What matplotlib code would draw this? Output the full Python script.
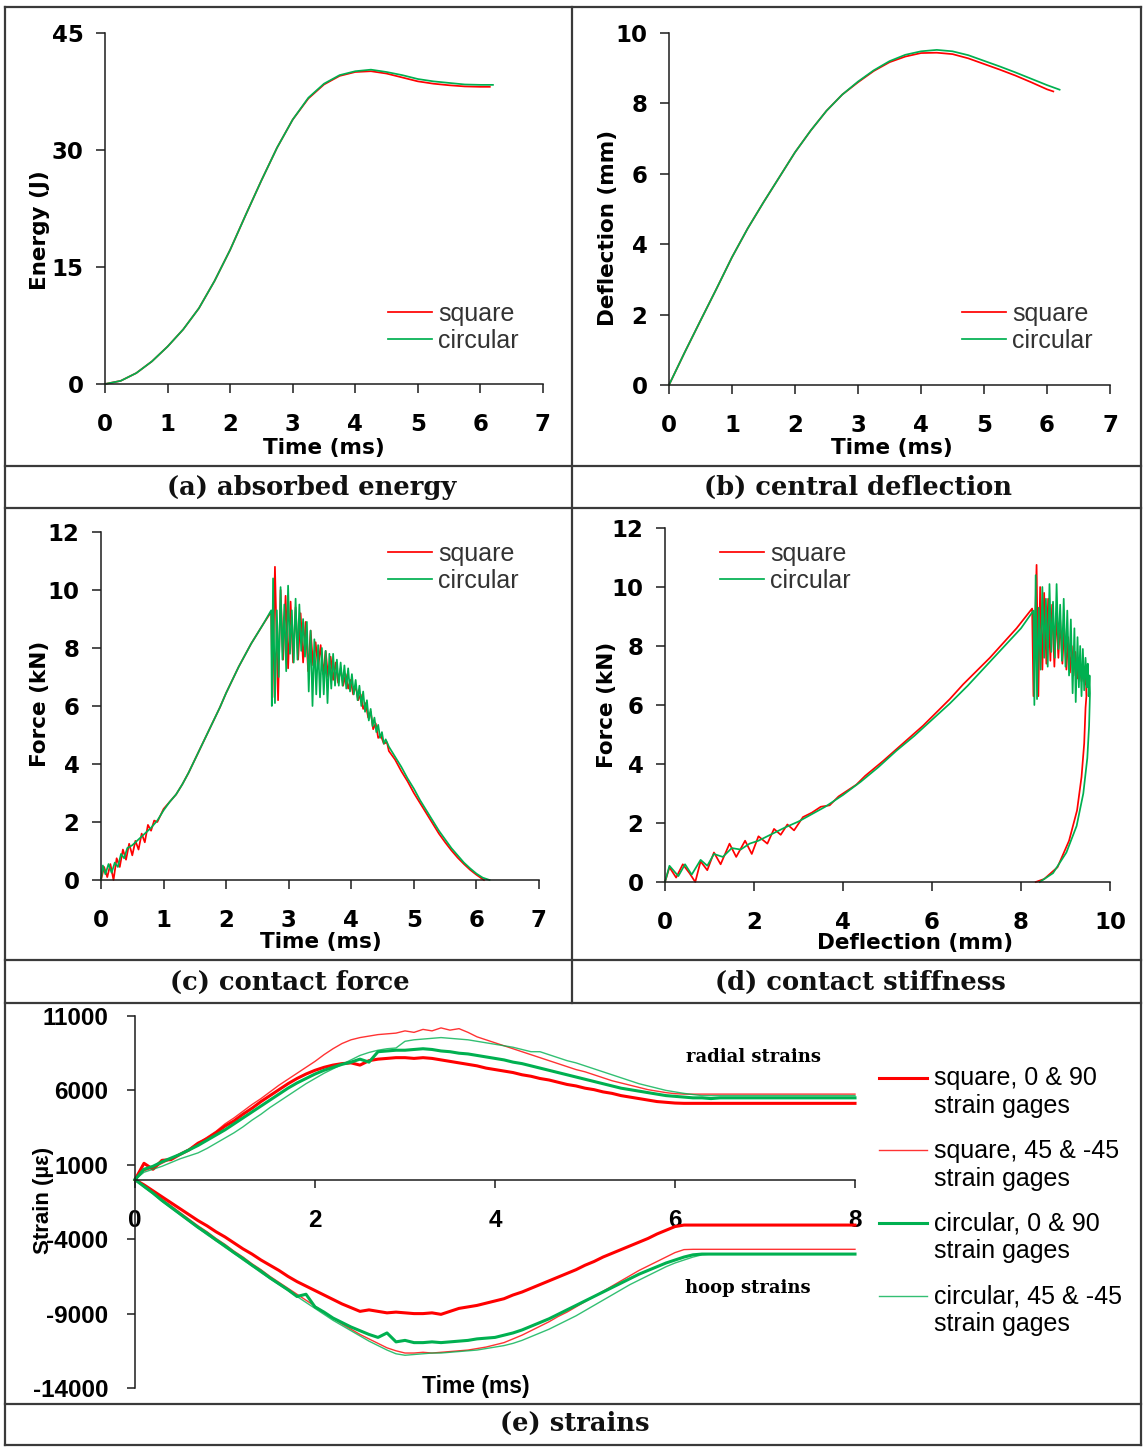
import numpy as np
import matplotlib
matplotlib.use("Agg")
import matplotlib.pyplot as plt
from matplotlib.lines import Line2D
from matplotlib.legend_handler import HandlerLine2D

# ---------------------------------------------------------------- data
# (a) absorbed energy (J) vs time (ms)
energy_t_sq = [0, 0.25, 0.5, 0.75, 1.0, 1.25, 1.5, 1.75, 2.0, 2.25, 2.5, 2.75, 3.0,
               3.25, 3.5, 3.75, 4.0, 4.25, 4.5, 4.75, 5.0, 5.25, 5.5, 5.75, 6.0, 6.15]
energy_sq = [0, 0.4, 1.4, 2.9, 4.8, 7.0, 9.7, 13.2, 17.2, 21.7, 26.1, 30.3, 33.9,
             36.6, 38.4, 39.5, 40.0, 40.1, 39.8, 39.3, 38.8, 38.5, 38.3, 38.15, 38.1, 38.1]
energy_t_ci = [0, 0.25, 0.5, 0.75, 1.0, 1.25, 1.5, 1.75, 2.0, 2.25, 2.5, 2.75, 3.0,
               3.25, 3.5, 3.75, 4.0, 4.25, 4.5, 4.75, 5.0, 5.25, 5.5, 5.75, 6.0, 6.2]
energy_ci = [0, 0.4, 1.4, 2.9, 4.8, 7.0, 9.7, 13.2, 17.2, 21.7, 26.1, 30.3, 33.9,
             36.7, 38.5, 39.6, 40.1, 40.3, 40.0, 39.6, 39.1, 38.8, 38.6, 38.4, 38.35, 38.35]

# (b) central deflection (mm) vs time (ms)
defl_t_sq = [0, 0.25, 0.5, 0.75, 1.0, 1.25, 1.5, 1.75, 2.0, 2.25, 2.5, 2.75, 3.0,
             3.25, 3.5, 3.75, 4.0, 4.25, 4.5, 4.75, 5.0, 5.25, 5.5, 5.75, 6.0, 6.1]
defl_sq = [0, 0.93, 1.83, 2.72, 3.63, 4.45, 5.19, 5.9, 6.61, 7.23, 7.79, 8.25, 8.6,
           8.92, 9.17, 9.33, 9.43, 9.44, 9.4, 9.28, 9.12, 8.96, 8.79, 8.6, 8.4, 8.34]
defl_t_ci = [0, 0.25, 0.5, 0.75, 1.0, 1.25, 1.5, 1.75, 2.0, 2.25, 2.5, 2.75, 3.0,
             3.25, 3.5, 3.75, 4.0, 4.25, 4.5, 4.75, 5.0, 5.25, 5.5, 5.75, 6.0, 6.2]
defl_ci = [0, 0.93, 1.83, 2.72, 3.63, 4.45, 5.19, 5.9, 6.61, 7.23, 7.79, 8.25, 8.62,
           8.94, 9.2, 9.38, 9.48, 9.52, 9.48, 9.37, 9.21, 9.05, 8.88, 8.7, 8.52, 8.39]

# (c) contact force (kN) vs time (ms)
force_t_sq = [0, 0.05, 0.1, 0.15, 0.2, 0.25, 0.3, 0.35, 0.4, 0.45, 0.5, 0.55, 0.6, 0.65,
              0.7, 0.75, 0.8, 0.85, 0.9, 1.0, 1.1, 1.2, 1.3, 1.4, 1.5, 1.6, 1.7, 1.8,
              1.9, 2.0, 2.1, 2.2, 2.3, 2.4, 2.5, 2.6, 2.72,
              2.74, 2.78, 2.83, 2.87, 2.91, 2.95, 2.99, 3.03, 3.07, 3.11, 3.15, 3.19,
              3.23, 3.27, 3.31, 3.35, 3.39, 3.43, 3.47, 3.51, 3.55, 3.59, 3.63, 3.67,
              3.71, 3.75, 3.79, 3.83, 3.87, 3.91, 3.95, 3.99, 4.03, 4.07, 4.11, 4.15,
              4.19, 4.23, 4.27, 4.31, 4.35, 4.39, 4.43, 4.47, 4.52, 4.57,
              4.6, 4.7, 4.8, 4.9, 5.0, 5.1, 5.2, 5.3, 5.4, 5.5, 5.6, 5.7, 5.8, 5.9,
              6.0, 6.12]
force_sq = [0, 0.45, 0.1, 0.55, 0.0, 0.75, 0.45, 1.05, 0.7, 1.25, 0.85, 1.35, 1.05, 1.6,
            1.3, 1.9, 1.7, 2.05, 2.0, 2.45, 2.7, 2.95, 3.3, 3.7, 4.15, 4.6, 5.05, 5.5,
            5.95, 6.45, 6.9, 7.35, 7.75, 8.15, 8.5, 8.85, 9.25,
            6.3, 10.8, 6.2, 10.0, 7.6, 9.8, 7.3, 9.6, 7.5, 9.4, 7.6, 9.2,
            7.5, 8.9, 7.2, 8.6, 7.4, 8.2, 7.3, 8.1, 7.1, 7.9, 7.0, 7.7,
            6.9, 7.5, 6.8, 7.3, 6.7, 7.1, 6.6, 6.9, 6.4, 6.7, 6.2, 6.4,
            5.9, 6.1, 5.6, 5.8, 5.2, 5.4, 4.9, 5.0, 4.7, 4.75,
            4.45, 4.15, 3.75, 3.4, 3.0, 2.65, 2.3, 1.95, 1.6, 1.3, 1.02, 0.77, 0.55, 0.35,
            0.18, 0.0]
force_t_ci = [0, 0.03, 0.07, 0.12, 0.17, 0.22, 0.27, 0.32, 0.37, 0.42, 0.5, 0.6, 0.7,
              0.8, 0.9, 1.0, 1.1, 1.2, 1.3, 1.4, 1.5, 1.6, 1.7, 1.8, 1.9, 2.0, 2.1,
              2.2, 2.3, 2.4, 2.5, 2.6, 2.72,
              2.73, 2.75, 2.78, 2.81, 2.84, 2.87, 2.90, 2.93, 2.96, 2.99, 3.02, 3.05,
              3.08, 3.11, 3.14, 3.17, 3.20, 3.23, 3.26, 3.29, 3.32, 3.35, 3.38, 3.41,
              3.44, 3.47, 3.50, 3.53, 3.56, 3.59, 3.62, 3.65, 3.68, 3.71, 3.74, 3.77,
              3.80, 3.83, 3.86, 3.89, 3.92, 3.95, 3.98, 4.01, 4.04, 4.07, 4.10, 4.13,
              4.16, 4.19, 4.22, 4.25, 4.28, 4.31, 4.34, 4.37, 4.40, 4.43, 4.46, 4.49,
              4.52, 4.55,
              4.6, 4.7, 4.8, 4.9, 5.0, 5.1, 5.2, 5.3, 5.4, 5.5, 5.6, 5.7, 5.8, 5.9,
              6.0, 6.1, 6.21]
force_ci = [0, 0.5, 0.2, 0.55, 0.25, 0.6, 0.45, 0.9, 0.75, 1.1, 1.2, 1.4, 1.6,
            1.8, 2.05, 2.4, 2.7, 2.95, 3.3, 3.7, 4.15, 4.6, 5.05, 5.5, 5.95, 6.45, 6.9,
            7.35, 7.75, 8.15, 8.5, 8.85, 9.3,
            6.0, 10.4, 6.1, 9.3, 7.0, 10.1, 7.6, 9.5, 7.2, 10.15, 7.8, 9.3,
            7.5, 9.7, 7.6, 9.5, 7.9, 9.0, 7.7, 8.9, 6.5, 8.6, 6.0, 8.3,
            6.4, 8.1, 6.3, 8.0, 6.4, 7.9, 6.1, 7.8, 6.6, 7.8, 6.7, 7.6,
            6.7, 7.5, 6.7, 7.4, 6.6, 7.3, 6.5, 7.1, 6.4, 6.9, 6.2, 6.7,
            6.0, 6.5, 5.8, 6.2, 5.5, 5.9, 5.3, 5.6, 5.1, 5.35, 4.9, 5.1,
            4.7, 4.85,
            4.6, 4.25, 3.9, 3.5, 3.15, 2.75, 2.4, 2.05, 1.7, 1.4, 1.1, 0.85, 0.6, 0.4,
            0.22, 0.08, 0.0]

# (d) contact force (kN) vs central deflection (mm)
stiff_d_sq = [0, 0.1, 0.25, 0.4, 0.55, 0.68, 0.8, 0.95, 1.1, 1.25, 1.45, 1.6, 1.8, 1.95,
              2.1, 2.3, 2.45, 2.6, 2.75, 2.9, 3.1, 3.3, 3.5, 3.7, 3.9, 4.1, 4.3, 4.5,
              4.7, 4.9, 5.2, 5.5, 5.8, 6.1, 6.4, 6.7, 7.0, 7.3, 7.6, 7.9, 8.25,
              8.28, 8.35, 8.39, 8.43, 8.48, 8.52, 8.57, 8.61, 8.66, 8.70, 8.75, 8.79,
              8.84, 8.88, 8.93, 8.97, 9.02, 9.06, 9.10, 9.14, 9.18, 9.22, 9.27, 9.31,
              9.36, 9.40, 9.44, 9.46, 9.47,
              9.45, 9.42, 9.36, 9.26, 9.08, 8.82, 8.52, 8.33]
stiff_sq = [0, 0.5, 0.15, 0.6, 0.3, 0.0, 0.7, 0.4, 1.0, 0.6, 1.3, 0.85, 1.4, 0.95,
            1.55, 1.3, 1.8, 1.6, 1.95, 1.75, 2.2, 2.35, 2.55, 2.6, 2.9, 3.1, 3.3, 3.6,
            3.85, 4.1, 4.5, 4.9, 5.3, 5.75, 6.2, 6.7, 7.15, 7.6, 8.1, 8.6, 9.27,
            6.3, 10.75, 6.3, 10.0, 7.2, 9.8, 7.4, 9.6, 7.5, 9.4, 7.3, 9.1,
            7.6, 8.9, 7.4, 8.6, 7.2, 8.3, 7.1, 8.0, 7.0, 7.8, 6.9, 7.5,
            6.8, 7.2, 6.7, 6.9, 6.3,
            5.9, 4.7, 3.56, 2.43, 1.4, 0.5, 0.1, 0.0]
stiff_d_ci = [0, 0.1, 0.3, 0.45, 0.6, 0.8, 0.95, 1.1, 1.3, 1.5, 1.7, 1.9, 2.1, 2.3,
              2.5, 2.7, 3.0, 3.3, 3.6, 4.0, 4.4, 4.8, 5.2, 5.6, 6.0, 6.4, 6.8, 7.2,
              7.6, 8.0, 8.28,
              8.30, 8.33, 8.36, 8.40, 8.44, 8.48, 8.52, 8.56, 8.60, 8.64, 8.68, 8.72,
              8.76, 8.80, 8.84, 8.88, 8.92, 8.96, 9.00, 9.04, 9.08, 9.12, 9.16, 9.20,
              9.23, 9.27, 9.30, 9.33, 9.36, 9.39, 9.42, 9.45, 9.48, 9.50, 9.52, 9.54,
              9.55,
              9.53, 9.49, 9.40, 9.25, 9.02, 8.72, 8.42]
stiff_ci = [0, 0.55, 0.2, 0.6, 0.25, 0.75, 0.55, 0.95, 0.85, 1.15, 1.1, 1.3, 1.4, 1.55,
            1.7, 1.85, 2.05, 2.3, 2.55, 2.95, 3.4, 3.9, 4.45, 4.95, 5.5, 6.05, 6.65, 7.3,
            7.95, 8.6, 9.2,
            6.0, 10.4, 6.2, 9.3, 7.2, 10.0, 7.6, 9.6, 7.3, 10.1, 7.8, 9.5,
            7.6, 10.1, 7.9, 9.4, 7.5, 9.6, 7.3, 9.2, 7.0, 8.9, 6.4, 8.6,
            6.1, 8.3, 6.6, 8.0, 6.3, 7.9, 6.5, 7.6, 6.6, 7.4, 6.3, 7.0,
            6.4,
            5.3, 4.2, 3.0, 1.9, 1.0, 0.3, 0.0]

# (e) strains (micro-strain) vs time (ms), sampled every 0.1 ms up to 6.5 ms, then 8 ms
strain_t = list(np.round(np.arange(0.0, 6.51, 0.1), 1)) + [8.0]
radial_sq_0_90 = [0, 1100, 700, 1300, 1350, 1700, 2000, 2450, 2750, 3150,
                  3600, 3950, 4400, 4800, 5250, 5650, 6050, 6450, 6800, 7100,
                  7350, 7550, 7700, 7800, 7850, 7700, 8000, 8100, 8150, 8200,
                  8200, 8150, 8200, 8150, 8050, 7950, 7850, 7750, 7650, 7500,
                  7400, 7300, 7200, 7050, 6950, 6800, 6700, 6550, 6400, 6300,
                  6150, 6050, 5900, 5800, 5650, 5550, 5450, 5350, 5250, 5200,
                  5150, 5130, 5130, 5130, 5130, 5130, 5130]
radial_sq_45 = [0, 600, 800, 1100, 1400, 1700, 2050, 2450, 2850, 3250,
                3750, 4150, 4600, 5050, 5450, 5900, 6350, 6750, 7150, 7550,
                7950, 8400, 8800, 9150, 9400, 9550, 9650, 9750, 9800, 9850,
                10000, 9900, 10100, 10000, 10200, 10050, 10150, 9900, 9600, 9400,
                9200, 9000, 8800, 8600, 8400, 8200, 8000, 7800, 7600, 7400,
                7250, 7050, 6850, 6650, 6500, 6350, 6200, 6050, 5950, 5850,
                5780, 5750, 5750, 5750, 5750, 5750, 5750]
radial_ci_0_90 = [0, 700, 900, 1200, 1450, 1700, 2000, 2300, 2650, 3000,
                  3350, 3750, 4150, 4550, 4950, 5350, 5750, 6150, 6500, 6800,
                  7100, 7350, 7550, 7750, 7900, 8100, 7900, 8600, 8650, 8700,
                  8700, 8750, 8800, 8750, 8650, 8600, 8500, 8450, 8350, 8250,
                  8150, 8050, 7900, 7800, 7650, 7500, 7350, 7200, 7050, 6900,
                  6750, 6600, 6450, 6300, 6150, 6050, 5950, 5850, 5750, 5650,
                  5600, 5550, 5500, 5500, 5450, 5500, 5500]
radial_ci_45 = [0, 500, 700, 900, 1150, 1400, 1600, 1800, 2100, 2450,
                2800, 3150, 3550, 4000, 4400, 4850, 5250, 5650, 6050, 6450,
                6800, 7150, 7450, 7750, 8050, 8350, 8550, 8700, 8800, 8850,
                9300, 9400, 9450, 9500, 9550, 9500, 9450, 9400, 9300, 9200,
                9100, 9000, 8900, 8750, 8600, 8600, 8400, 8200, 8000, 7850,
                7650, 7450, 7250, 7050, 6850, 6650, 6450, 6300, 6150, 6000,
                5900, 5800, 5720, 5650, 5650, 5650, 5650]
hoop_sq_0_90 = [0, -350, -750, -1150, -1550, -1950, -2350, -2750, -3100, -3500,
                -3850, -4250, -4650, -5000, -5400, -5750, -6100, -6500, -6850, -7150,
                -7450, -7750, -8050, -8350, -8600, -8850, -8750, -8850, -8950, -8900,
                -8950, -9000, -9000, -8950, -9050, -8850, -8650, -8550, -8450, -8300,
                -8150, -8000, -7750, -7550, -7300, -7050, -6800, -6550, -6300, -6050,
                -5750, -5500, -5200, -4950, -4700, -4450, -4200, -3950, -3650, -3400,
                -3150, -3050, -3050, -3050, -3050, -3050, -3050]
hoop_sq_45 = [0, -400, -850, -1300, -1750, -2200, -2650, -3100, -3500, -3950,
              -4350, -4800, -5200, -5650, -6050, -6500, -6900, -7300, -7700, -8100,
              -8500, -8900, -9300, -9700, -10050, -10400, -10700, -11000, -11300, -11500,
              -11650, -11650, -11600, -11650, -11600, -11550, -11500, -11450, -11350, -11250,
              -11100, -10950, -10700, -10450, -10150, -9850, -9550, -9200, -8900, -8550,
              -8200, -7850, -7500, -7150, -6800, -6450, -6100, -5800, -5500, -5200,
              -4900, -4700, -4680, -4680, -4680, -4680, -4680]
hoop_ci_0_90 = [0, -450, -900, -1400, -1850, -2300, -2750, -3200, -3600, -4050,
                -4450, -4900, -5300, -5750, -6150, -6600, -7000, -7400, -7850, -7700,
                -8550, -8900, -9300, -9600, -9900, -10150, -10400, -10600, -10300, -10900,
                -10800, -10950, -10950, -10900, -10950, -10900, -10850, -10800, -10700, -10650,
                -10600, -10450, -10300, -10100, -9850, -9600, -9350, -9050, -8750, -8450,
                -8150, -7850, -7550, -7250, -6950, -6650, -6350, -6100, -5850, -5600,
                -5400, -5200, -5050, -5000, -5000, -5000, -5000]
hoop_ci_45 = [0, -500, -950, -1450, -1900, -2350, -2800, -3250, -3700, -4100,
              -4550, -4950, -5400, -5800, -6250, -6650, -7050, -7450, -7850, -8250,
              -8650, -9050, -9450, -9800, -10150, -10500, -10850, -11150, -11450, -11700,
              -11800, -11750, -11700, -11650, -11650, -11600, -11550, -11500, -11450, -11350,
              -11250, -11150, -11000, -10800, -10550, -10300, -10050, -9750, -9450, -9150,
              -8800, -8450, -8100, -7750, -7400, -7050, -6750, -6450, -6150, -5850,
              -5600, -5400, -5200, -5050, -5000, -5000, -5000]

# tick values / labels
time7_ticks = [0, 1, 2, 3, 4, 5, 6, 7]
energy_ticks = [0, 15, 30, 45]
defl_ticks = [0, 2, 4, 6, 8, 10]
force_ticks = [0, 2, 4, 6, 8, 10, 12]
strain_x_ticks = [0, 2, 4, 6, 8]
strain_y_ticks = [11000, 6000, 1000, -4000, -9000, -14000]

captions = ["(a) absorbed energy", "(b) central deflection", "(c) contact force",
            "(d) contact stiffness", "(e) strains"]
series_names = ["square", "circular"]
strain_names = ["square, 0 & 90\nstrain gages", "square, 45 & -45\nstrain gages",
                "circular, 0 & 90\nstrain gages", "circular, 45 & -45\nstrain gages"]

# ---------------------------------------------------------------- figure
W, H, DPI = 1144, 1447, 100
fig = plt.figure(figsize=(W / DPI, H / DPI), dpi=DPI)
fig.patch.set_facecolor("white")

RED = "#FF0000"
GREEN = "#00B050"
INK = "#1c1c1c"
FRAME = "#3a3a3a"
TICK_FONT = "DejaVu Sans"
LEG_FONT = "Liberation Sans"


def fx(x):
    return x / W


def fy(y):
    return 1 - y / H


def axes_px(left, right, top, bottom):
    return fig.add_axes([fx(left), fy(bottom), (right - left) / W, (bottom - top) / H])


def hline(x0, x1, y):
    fig.add_artist(Line2D([fx(x0), fx(x1)], [fy(y), fy(y)], transform=fig.transFigure,
                          color=FRAME, lw=1.6, solid_capstyle="projecting"))


def vline(x, y0, y1):
    fig.add_artist(Line2D([fx(x), fx(x)], [fy(y0), fy(y1)], transform=fig.transFigure,
                          color=FRAME, lw=1.6, solid_capstyle="projecting"))


class FirstLineHandler(HandlerLine2D):
    """Legend line drawn level with the first line of a two-line label."""

    def create_artists(self, legend, orig_handle, xdescent, ydescent, width, height,
                       fontsize, trans):
        artists = super().create_artists(legend, orig_handle, xdescent, ydescent,
                                         width, height, fontsize, trans)
        for a in artists:
            a.set_ydata(np.asarray(a.get_ydata()) + 0.6 * fontsize)
        return artists


# frame of the composite figure
hline(5, 1141, 7)
hline(5, 1141, 466)
hline(5, 1141, 508)
hline(5, 1141, 960)
hline(5, 1141, 1003)
hline(5, 1141, 1404)
hline(5, 1141, 1445)
vline(5, 7, 1445)
vline(1141, 7, 1445)
vline(572, 7, 1003)

caption_pos = [(312, 487), (858, 487), (290, 982), (860, 982), (575, 1423)]
for text, (cx, cy) in zip(captions, caption_pos):
    fig.text(fx(cx), fy(cy), text, ha="center", va="center", family="DejaVu Serif",
             weight="bold", fontsize=18.5, color="#111111")


def style_small(ax, xticks, yticks, xlabel, ylabel, xlab_px, ylab_px):
    ax.set_xlim(xticks[0], xticks[-1])
    ax.set_ylim(yticks[0], yticks[-1])
    ax.set_xticks(xticks)
    ax.set_yticks(yticks)
    ax.set_xticklabels([str(v) for v in xticks], fontweight="bold", family=TICK_FONT,
                       fontsize=16.5)
    ax.set_yticklabels([str(v) for v in yticks], fontweight="bold", family=TICK_FONT,
                       fontsize=16.5)
    for s in ("top", "right"):
        ax.spines[s].set_visible(False)
    for s in ("left", "bottom"):
        ax.spines[s].set_linewidth(1.1)
        ax.spines[s].set_color(INK)
    ax.tick_params(direction="out", length=6.5, width=1.1, color=INK, labelcolor="#000000")
    ax.tick_params(axis="x", pad=14.5)
    ax.tick_params(axis="y", pad=9)
    ax.patch.set_alpha(0)
    ax.set_xlabel(xlabel, fontweight="bold", family=TICK_FONT, fontsize=15.5)
    ax.set_ylabel(ylabel, fontweight="bold", family=TICK_FONT, fontsize=15.5)
    ax.xaxis.set_label_coords(fx(xlab_px[0]), fy(xlab_px[1]), transform=fig.transFigure)
    ax.yaxis.set_label_coords(fx(ylab_px[0]), fy(ylab_px[1]), transform=fig.transFigure)
    ax.xaxis.label.set_verticalalignment("center")
    ax.yaxis.label.set_verticalalignment("center")


def small_legend(ax, anchor_px):
    leg = ax.legend(series_names, loc="upper left",
                    bbox_to_anchor=(fx(anchor_px[0]), fy(anchor_px[1])),
                    bbox_transform=fig.transFigure, frameon=False, borderpad=0,
                    borderaxespad=0, handlelength=1.75, handletextpad=0.25,
                    labelspacing=0.12, prop={"family": LEG_FONT, "size": 18})
    for t in leg.get_texts():
        t.set_color("#333333")
    return leg


LW = 1.25

# (a) absorbed energy
ax_a = axes_px(105, 543, 33, 384)
ax_a.plot(energy_t_sq, energy_sq, color=RED, lw=LW, clip_on=False)
ax_a.plot(energy_t_ci, energy_ci, color=GREEN, lw=LW, clip_on=False)
style_small(ax_a, time7_ticks, energy_ticks, "Time (ms)", "Energy (J)", (324, 448), (40, 230))
small_legend(ax_a, (388, 302))

# (b) central deflection
ax_b = axes_px(669, 1110, 33, 385)
ax_b.plot(defl_t_sq, defl_sq, color=RED, lw=LW, clip_on=False)
ax_b.plot(defl_t_ci, defl_ci, color=GREEN, lw=LW, clip_on=False)
style_small(ax_b, time7_ticks, defl_ticks, "Time (ms)", "Deflection (mm)", (892, 448), (608, 228))
small_legend(ax_b, (962, 302))

# (c) contact force
ax_c = axes_px(101, 539, 532, 880)
ax_c.plot(force_t_sq, force_sq, color=RED, lw=LW, clip_on=False)
ax_c.plot(force_t_ci, force_ci, color=GREEN, lw=LW, clip_on=False)
style_small(ax_c, time7_ticks, force_ticks, "Time (ms)", "Force (kN)", (321, 942), (40, 704))
small_legend(ax_c, (388, 542))

# (d) contact stiffness
ax_d = axes_px(665, 1110, 528, 882)
ax_d.plot(stiff_d_sq, stiff_sq, color=RED, lw=LW, clip_on=False)
ax_d.plot(stiff_d_ci, stiff_ci, color=GREEN, lw=LW, clip_on=False)
style_small(ax_d, defl_ticks, force_ticks, "Deflection (mm)", "Force (kN)", (915, 943), (607, 705))
small_legend(ax_d, (720, 542))

# (e) strains
ax_e = axes_px(135, 855, 1016, 1388)
ax_e.set_xlim(0, 8)
ax_e.set_ylim(-14000, 11000)
strain_series = [
    (radial_sq_0_90, RED, 2.2, 1.0),
    (radial_sq_45, RED, 1.0, 0.8),
    (radial_ci_0_90, GREEN, 2.2, 1.0),
    (radial_ci_45, GREEN, 1.0, 0.8),
]
hoop_series = [hoop_sq_0_90, hoop_sq_45, hoop_ci_0_90, hoop_ci_45]
handles = []
for (radial, color, lw, alpha), hoop in zip(strain_series, hoop_series):
    h, = ax_e.plot(strain_t, radial, color=color, lw=lw, alpha=alpha, clip_on=False)
    ax_e.plot(strain_t, hoop, color=color, lw=lw, alpha=alpha, clip_on=False)
    handles.append(h)

for s in ("top", "right"):
    ax_e.spines[s].set_visible(False)
ax_e.spines["bottom"].set_position(("data", 0))
for s in ("left", "bottom"):
    ax_e.spines[s].set_linewidth(1.1)
    ax_e.spines[s].set_color(INK)
ax_e.set_xticks(strain_x_ticks)
ax_e.set_yticks(strain_y_ticks)
ax_e.set_xticklabels([str(v) for v in strain_x_ticks], fontweight="bold",
                     family="Liberation Sans", fontsize=17.5)
ax_e.set_yticklabels([str(v) for v in strain_y_ticks], fontweight="bold",
                     family="Liberation Sans", fontsize=17.5)
ax_e.tick_params(direction="out", length=6, width=1.1, color=INK)
ax_e.tick_params(axis="x", pad=15)
ax_e.tick_params(axis="y", pad=13)
ax_e.patch.set_alpha(0)
ax_e.set_xlabel("Time (ms)", fontweight="bold", family="Liberation Sans", fontsize=16.5)
ax_e.set_ylabel("Strain (\u00b5\u03b5)", fontweight="bold", family="Liberation Sans",
                fontsize=16)
ax_e.xaxis.set_label_coords(fx(476), fy(1387), transform=fig.transFigure)
ax_e.yaxis.set_label_coords(fx(44), fy(1200), transform=fig.transFigure)
ax_e.xaxis.label.set_verticalalignment("center")
ax_e.yaxis.label.set_verticalalignment("center")

ax_e.text(fx(753), fy(1057), "radial strains", transform=fig.transFigure, ha="center",
          va="center", family="DejaVu Serif", weight="bold", fontsize=13)
ax_e.text(fx(748), fy(1288), "hoop strains", transform=fig.transFigure, ha="center",
          va="center", family="DejaVu Serif", weight="bold", fontsize=13)

ax_e.legend(handles, strain_names, loc="upper left",
            bbox_to_anchor=(fx(879), fy(1066)), bbox_transform=fig.transFigure,
            frameon=False, borderpad=0, borderaxespad=0, handlelength=1.9,
            handletextpad=0.28, labelspacing=0.84,
            handler_map={Line2D: FirstLineHandler()},
            prop={"family": LEG_FONT, "size": 18})

fig.savefig("out.png", dpi=DPI, facecolor="white")
